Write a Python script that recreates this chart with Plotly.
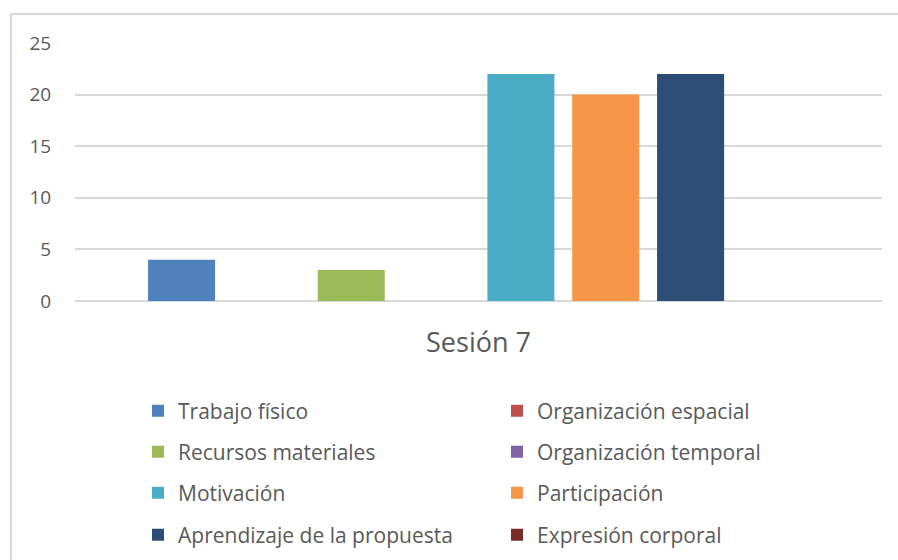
import plotly.graph_objects as go

categories = ["Sesión 7"]
series_names = ["Trabajo físico", "Organización espacial", "Recursos materiales",
                "Organización temporal", "Motivación", "Participación",
                "Aprendizaje de la propuesta", "Expresión corporal"]
series_values = [[4], [0], [3], [0], [22], [20], [22], [0]]
colors = ["#4F81BD", "#C0504D", "#9BBB59", "#8064A2",
          "#4BACC6", "#F79646", "#2C4D75", "#772C2A"]
y_ticks = [0, 5, 10, 15, 20, 25]

W, H = 898, 560
L, R, T, B = 75, 16, 43, 259
pw, ph = W - L - R, H - T - B

def px_x(px):
    return (px - L) / pw

def px_y(py):
    return (H - B - py) / ph

FONT = "Open Sans"
TXT = "#595959"

fig = go.Figure()
legend_ids = ["legend", "legend2", "legend3", "legend4"]
for i, (name, vals, col) in enumerate(zip(series_names, series_values, colors)):
    fig.add_trace(go.Bar(
        x=categories, y=vals, name=name, marker=dict(color=col, line=dict(width=0)),
        legend=legend_ids[i // 2],
    ))

row_y = [411, 452, 493, 535]
legend_layout = {}
for k, lid in enumerate(legend_ids):
    legend_layout[lid] = dict(
        orientation="h", x=px_x(138), xanchor="left", y=px_y(row_y[k]), yanchor="middle",
        entrywidth=314, entrywidthmode="pixels",
        font=dict(family=FONT, size=21, color=TXT), bgcolor="rgba(0,0,0,0)",
        traceorder="normal", itemclick=False, itemdoubleclick=False,
    )

fig.update_layout(
    width=W, height=H, margin=dict(l=L, r=R, t=T, b=B, autoexpand=False),
    paper_bgcolor="white", plot_bgcolor="white",
    barmode="group", bargap=0.159, bargroupgap=0.21,
    font=dict(family=FONT, color=TXT),
    showlegend=True,
    **legend_layout,
    xaxis=dict(showgrid=False, showline=False, zeroline=False,
               ticks="outside", ticklen=18, tickcolor="rgba(0,0,0,0)",
               tickfont=dict(family=FONT, size=27, color=TXT)),
    yaxis=dict(range=[0, 25], tickvals=y_ticks, showgrid=True, gridcolor="#D9D9D9",
               gridwidth=1.5, zeroline=True, zerolinecolor="#D9D9D9", zerolinewidth=1.5,
               showline=False, ticks="outside", ticklen=19, tickcolor="rgba(0,0,0,0)",
               tickfont=dict(family=FONT, size=19, color=TXT)),
    shapes=[dict(type="rect", xref="paper", yref="paper",
                 x0=px_x(11), x1=px_x(W + 20), y0=px_y(H + 20), y1=px_y(14),
                 line=dict(color="#D9D9D9", width=2), fillcolor="rgba(0,0,0,0)", layer="below")],
)

fig.write_html("out.html", config={"displayModeBar": False},
               post_script="document.body.style.margin='0';")
